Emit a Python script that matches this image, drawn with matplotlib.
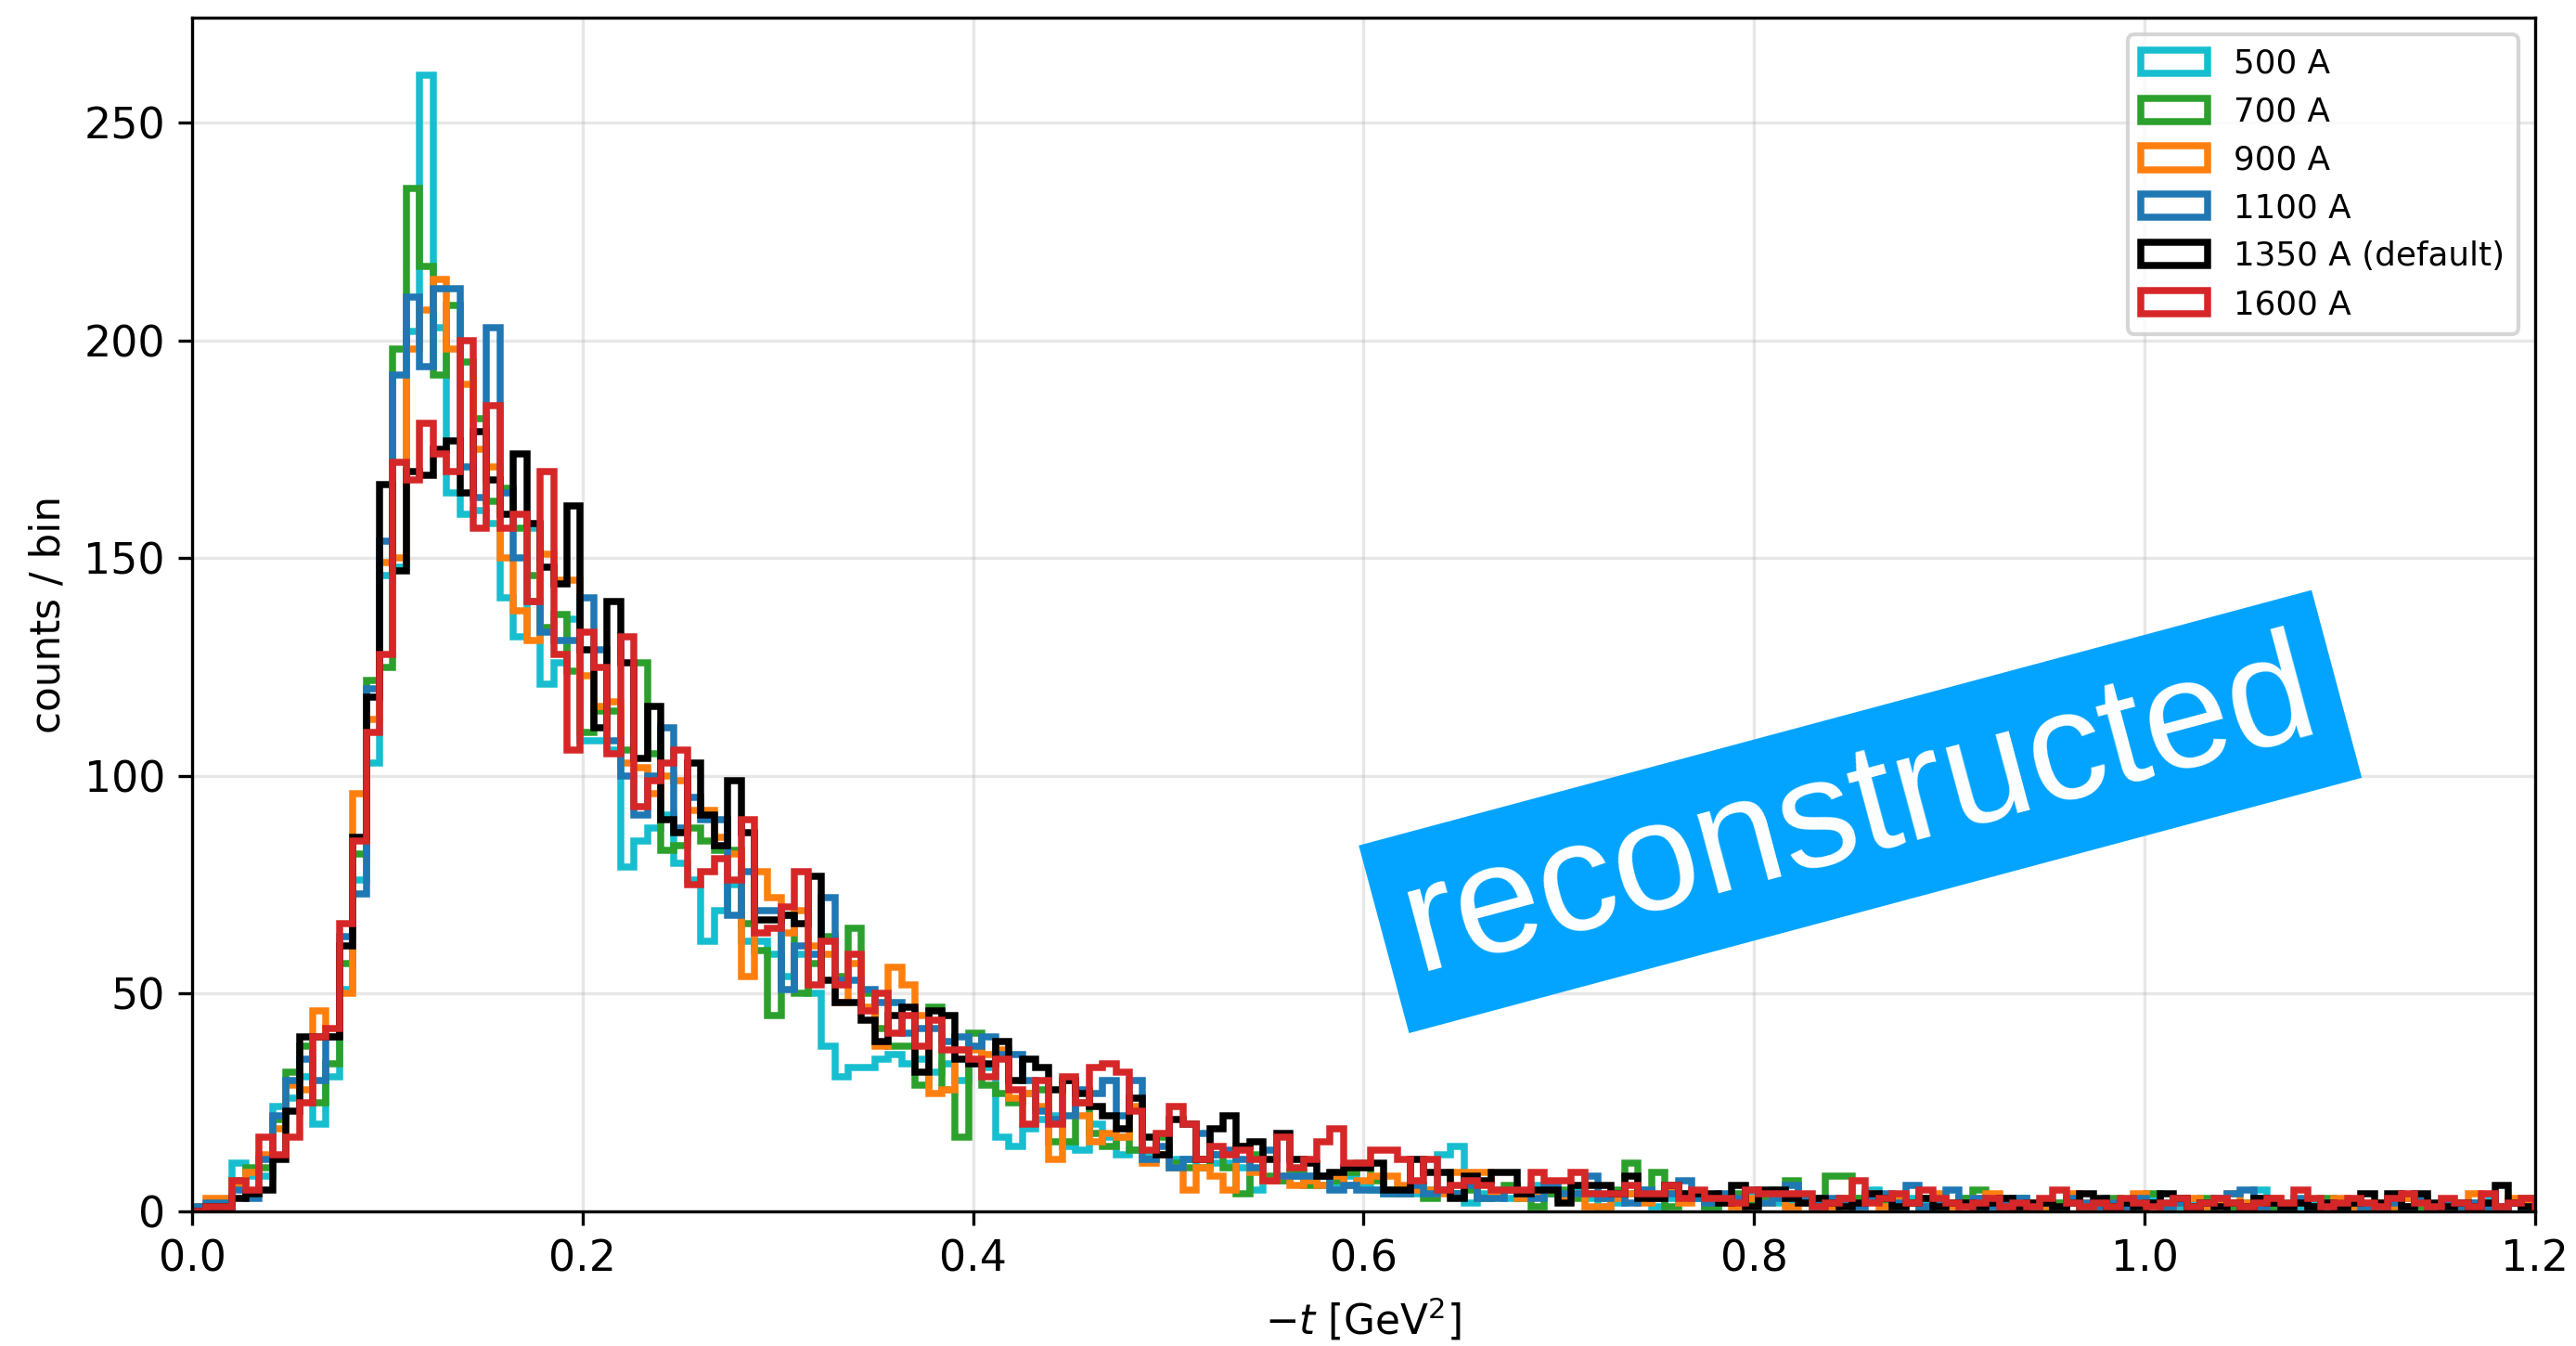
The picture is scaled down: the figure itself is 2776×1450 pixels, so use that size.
import numpy as np
import matplotlib
matplotlib.use("Agg")
import matplotlib.pyplot as plt

# binning of -t used for all magnet settings
T_MIN, T_MAX, N_BINS = 0.0, 1.2, 175

CURRENTS = ["500 A", "700 A", "900 A", "1100 A", "1350 A (default)", "1600 A"]
COLORS = ["#17becf", "#2ca02c", "#ff7f0e", "#1f77b4", "black", "#d62728"]

# counts per bin for each dipole current
counts_500 = [
    1, 1, 2, 11, 8, 8, 24, 26, 31, 20, 31, 51,
    76, 103, 146, 148, 202, 261, 203, 165, 160, 161, 158,
    141, 132, 157, 121, 126, 136, 108, 108, 106, 79,
    85, 88, 91, 80, 76, 62, 69, 75, 62, 62,
    59, 54, 59, 50, 38, 31, 33, 33, 35, 36,
    34, 35, 32, 34, 30, 34, 33, 17, 15, 19,
    21, 22, 15, 14, 20, 17, 13, 14, 13, 13,
    12, 12, 10, 11, 11, 10, 5, 7, 7, 8,
    8, 6, 6, 8, 6, 5, 4, 5, 4, 5,
    13, 15, 2, 4, 5, 3, 4, 6, 4, 3,
    5, 3, 1, 2, 4, 5, 1, 3, 4, 3,
    1, 3, 2, 4, 3, 2, 2, 3, 1, 2,
    2, 3, 5, 2, 1, 3, 2, 1, 2, 3,
    1, 2, 3, 1, 2, 1, 2, 3, 1, 2,
    1, 2, 1, 3, 2, 1, 2, 1, 2, 1,
    2, 5, 1, 2, 1, 2, 1, 1, 2, 1,
    2, 1, 1, 2, 1, 1, 2, 1, 3, 1, 2, 1,
]
counts_700 = [
    0, 1, 2, 7, 10, 10, 21, 32, 38, 25, 34, 57,
    82, 122, 125, 198, 235, 217, 192, 208, 195, 182, 163,
    166, 157, 146, 134, 137, 124, 110, 115, 115, 106,
    126, 105, 83, 84, 88, 85, 83, 83, 66, 60,
    45, 68, 50, 57, 63, 54, 65, 50, 42, 38,
    38, 29, 47, 28, 17, 41, 29, 27, 25, 27,
    28, 16, 16, 25, 18, 15, 17, 14, 12, 17,
    11, 10, 10, 13, 10, 4, 13, 8, 7, 9,
    6, 8, 7, 9, 11, 7, 5, 4, 6, 3,
    5, 4, 5, 3, 4, 6, 3, 1, 4, 5,
    3, 4, 3, 5, 11, 4, 9, 1, 3, 4,
    1, 3, 4, 2, 3, 5, 7, 2, 3, 8,
    8, 3, 4, 2, 3, 2, 1, 3, 2, 3,
    5, 2, 1, 3, 2, 1, 2, 3, 1, 2,
    3, 1, 2, 4, 1, 2, 1, 3, 2, 1,
    2, 3, 1, 1, 2, 1, 3, 1, 2, 1,
    2, 1, 3, 1, 1, 2, 1, 2, 1, 1, 2, 3,
]
counts_900 = [
    1, 3, 3, 6, 9, 13, 19, 29, 28, 46, 40, 50,
    96, 113, 149, 150, 198, 207, 214, 198, 190, 175, 171,
    150, 138, 131, 151, 145, 145, 123, 116, 117, 103,
    102, 96, 100, 99, 92, 92, 86, 82, 54, 78,
    72, 64, 69, 61, 59, 48, 57, 47, 38, 56,
    52, 45, 27, 28, 37, 37, 36, 37, 26, 27,
    24, 12, 30, 22, 16, 18, 17, 24, 11, 13,
    10, 5, 10, 8, 5, 15, 9, 7, 8, 6,
    7, 6, 8, 6, 7, 8, 8, 6, 5, 5,
    4, 9, 9, 9, 4, 5, 3, 4, 5, 3,
    4, 1, 1, 3, 4, 2, 3, 5, 2, 4,
    3, 2, 1, 3, 2, 4, 1, 3, 2, 1,
    3, 2, 4, 1, 3, 2, 3, 4, 1, 2,
    3, 4, 2, 1, 2, 1, 1, 4, 2, 1,
    2, 1, 4, 2, 1, 2, 3, 1, 2, 4,
    2, 1, 3, 1, 2, 1, 2, 3, 1, 2,
    2, 1, 3, 2, 1, 2, 1, 4, 2, 1, 3, 2,
]
counts_1100 = [
    1, 2, 2, 5, 3, 12, 22, 30, 35, 30, 40, 63,
    73, 120, 154, 192, 210, 194, 212, 212, 171, 164, 203,
    165, 150, 140, 133, 131, 131, 141, 129, 108, 100,
    91, 100, 111, 88, 95, 90, 90, 68, 78, 69,
    69, 51, 61, 59, 72, 53, 53, 51, 48, 48,
    41, 42, 42, 39, 40, 38, 40, 36, 36, 30,
    23, 21, 22, 28, 27, 30, 22, 30, 12, 15,
    10, 12, 18, 13, 14, 12, 10, 14, 8, 8,
    8, 8, 5, 6, 5, 5, 4, 4, 6, 4,
    5, 4, 6, 3, 3, 5, 4, 3, 6, 4,
    4, 8, 3, 4, 2, 5, 3, 4, 7, 3,
    2, 4, 3, 5, 2, 3, 6, 3, 2, 3,
    2, 1, 3, 4, 2, 6, 1, 2, 5, 2,
    3, 1, 2, 3, 1, 2, 1, 3, 2, 1,
    2, 1, 3, 2, 1, 2, 1, 2, 3, 4,
    5, 1, 2, 1, 3, 1, 2, 1, 2, 1,
    1, 2, 1, 3, 1, 2, 1, 2, 1, 1, 2, 1,
]
counts_1350 = [
    0, 1, 1, 3, 4, 5, 12, 23, 40, 40, 40, 61,
    86, 118, 167, 147, 170, 169, 175, 177, 165, 179, 168,
    160, 174, 158, 148, 144, 162, 129, 111, 140, 126,
    104, 116, 90, 87, 103, 91, 84, 99, 87, 67,
    67, 68, 66, 77, 53, 48, 48, 44, 39, 45,
    47, 32, 46, 45, 35, 34, 34, 39, 30, 35,
    33, 28, 30, 27, 24, 22, 19, 26, 17, 13,
    21, 20, 12, 19, 22, 15, 16, 12, 18, 12,
    11, 8, 9, 10, 10, 11, 5, 5, 12, 9,
    9, 3, 8, 7, 9, 9, 4, 5, 5, 2,
    6, 6, 6, 4, 8, 3, 3, 6, 4, 4,
    4, 2, 6, 1, 5, 5, 3, 2, 3, 2,
    1, 2, 4, 3, 1, 2, 3, 1, 2, 2,
    1, 2, 3, 1, 2, 2, 1, 2, 4, 3,
    1, 2, 1, 2, 4, 3, 1, 2, 1, 2,
    1, 3, 2, 1, 2, 1, 2, 1, 2, 4,
    2, 4, 1, 4, 2, 1, 2, 1, 2, 6, 2, 1,
]
counts_1600 = [
    0, 1, 1, 7, 5, 17, 13, 17, 25, 40, 42, 66,
    85, 110, 128, 172, 168, 181, 174, 170, 200, 157, 185,
    157, 160, 140, 170, 128, 106, 133, 125, 105, 132,
    93, 99, 103, 106, 75, 78, 81, 76, 90, 64,
    65, 70, 78, 52, 62, 52, 59, 46, 50, 41,
    45, 38, 44, 37, 37, 35, 31, 35, 28, 20,
    30, 20, 31, 25, 33, 34, 32, 23, 14, 18,
    24, 20, 12, 15, 13, 14, 12, 7, 17, 10,
    12, 16, 19, 11, 11, 14, 14, 12, 7, 12,
    5, 6, 7, 6, 5, 5, 5, 9, 7, 7,
    9, 4, 4, 4, 6, 4, 4, 6, 3, 5,
    3, 3, 2, 5, 4, 4, 4, 4, 1, 2,
    3, 7, 2, 3, 4, 2, 5, 3, 2, 1,
    2, 3, 1, 2, 1, 3, 5, 2, 1, 2,
    1, 3, 2, 1, 2, 3, 1, 2, 3, 2,
    1, 2, 3, 2, 5, 3, 1, 2, 3, 2,
    1, 3, 4, 2, 1, 3, 2, 1, 4, 1, 2, 3,
]

all_counts = [counts_500, counts_700, counts_900, counts_1100, counts_1350, counts_1600]

edges = np.linspace(T_MIN, T_MAX, N_BINS + 1)
centers = 0.5 * (edges[:-1] + edges[1:])

fig = plt.figure(figsize=(2776 / 300, 1450 / 300), dpi=300)
ax = fig.add_axes([0.0746, 0.1, 0.9095, 0.8866])

for label, color, counts in zip(CURRENTS, COLORS, all_counts):
    ax.hist(centers, bins=edges, weights=np.asarray(counts, dtype=float),
            histtype="step", color=color, linewidth=1.8, label=label)

ax.set_xlim(T_MIN, T_MAX)
ax.set_ylim(bottom=0)
ax.set_xlabel(r"$-t$ [GeV$^2$]", fontsize=10.5)
ax.set_ylabel("counts / bin", fontsize=10.5)
ax.tick_params(labelsize=11)
ax.grid(True, alpha=0.3)
ax.legend(loc="upper right", fontsize=8.6)

ax.text(0.712, 0.335, "reconstructed", transform=ax.transAxes,
        rotation=15, rotation_mode="anchor", ha="center", va="center",
        fontsize=40, color="white", family="Liberation Sans", zorder=10,
        bbox=dict(boxstyle="square,pad=0.16", facecolor="#03a4ff", edgecolor="none"))

fig.savefig("out.png", dpi=300)
